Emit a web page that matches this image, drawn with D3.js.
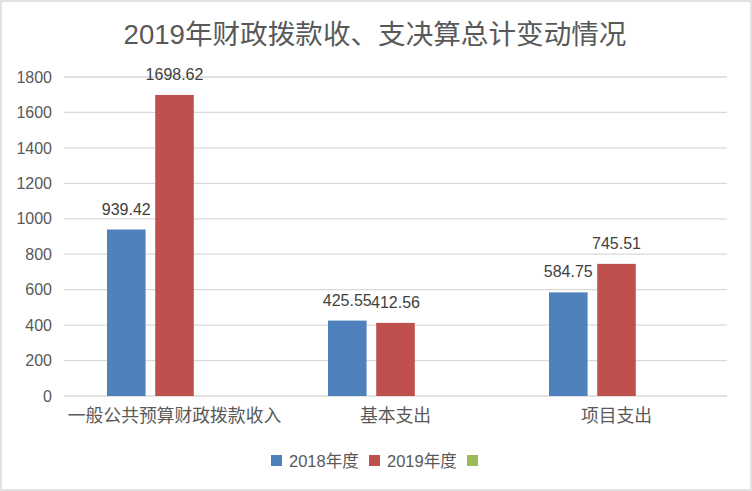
<!DOCTYPE html>
<html><head><meta charset="utf-8">
<script src="https://cdn.jsdelivr.net/npm/d3@7"></script>
<style>body{margin:0;background:#fff}svg{display:block}</style>
</head><body><svg id="c" width="752" height="491"></svg>
<script>
const title = "2019年财政拨款收、支决算总计变动情况";
const categories = ["一般公共预算财政拨款收入", "基本支出", "项目支出"];
const seriesNames = ["2018年度", "2019年度", ""];
const values2018 = [939.42, 425.55, 584.75];
const values2019 = [1698.62, 412.56, 745.51];
const values3 = [null, null, null];
const yTicks = [0, 200, 400, 600, 800, 1000, 1200, 1400, 1600, 1800];
const colors = ["#4f81bd", "#c0504d", "#9bbb59"];

const series = [values2018, values2019, values3];
const font = "'Liberation Sans','Noto Sans CJK SC',sans-serif";
const svg = d3.select("#c");
svg.append("rect").attr("x",1).attr("y",1).attr("width",750).attr("height",489)
  .attr("fill","#fff").attr("stroke","#d9d9d9").attr("stroke-width",1.5);

const L=64, R=727, T=77, B=396;
const x0 = d3.scaleBand().domain(categories).range([L,R]).padding(0);
const x1 = d3.scaleBand().domain(d3.range(3)).range([43, x0.bandwidth()-43]).paddingInner(0.2);
const y = d3.scaleLinear().domain([0,1800]).range([B,T]);

svg.append("text").attr("x",375).attr("y",44).attr("text-anchor","middle")
  .attr("font-family",font).attr("font-size",27.6).attr("fill","#595959").text(title);

const g = svg.append("g");
g.selectAll("line.grid").data(yTicks).enter().append("line")
  .attr("x1",L).attr("x2",R).attr("y1",d=>y(d)).attr("y2",d=>y(d))
  .attr("stroke","#d9d9d9").attr("stroke-width",1.3);

const yAxis = d3.axisLeft(y).tickValues(yTicks).tickFormat(d3.format("d")).tickSize(0).tickPadding(12);
const ya = svg.append("g").attr("transform",`translate(${L},0)`).call(yAxis);
ya.select(".domain").remove();
ya.selectAll("text").attr("font-family",font).attr("font-size",16).attr("fill","#595959");

const xAxis = d3.axisBottom(x0).tickSize(0).tickPadding(13);
const xa = svg.append("g").attr("transform",`translate(0,${B})`).call(xAxis);
xa.select(".domain").remove();
xa.selectAll("text").attr("font-family",font).attr("font-size",17.8).attr("fill","#595959");

series.forEach((vals, si) => {
  const data = categories.map((c,i)=>({c, v: vals[i]})).filter(d=>d.v!=null);
  svg.selectAll(null).data(data).enter().append("rect")
    .attr("x", d=>x0(d.c)+x1(si)).attr("width", x1.bandwidth())
    .attr("y", d=>y(d.v)).attr("height", d=>B-y(d.v)).attr("fill", colors[si]);
  svg.selectAll(null).data(data).enter().append("text")
    .attr("x", d=>x0(d.c)+x1(si)+x1.bandwidth()/2).attr("y", d=>y(d.v)-15)
    .attr("text-anchor","middle").attr("font-family",font).attr("font-size",16)
    .attr("fill","#404040").text(d=>d.v.toFixed(2));
});

// legend
const leg = svg.append("g");
const legItems = [{x:271, t:seriesNames[0]},{x:369, t:seriesNames[1]},{x:467, t:seriesNames[2]}];
legItems.forEach((it,i)=>{
  leg.append("rect").attr("x",it.x).attr("y",455).attr("width",11).attr("height",11).attr("fill",colors[i]);
  leg.append("text").attr("x",it.x+18).attr("y",467).attr("font-family",font).attr("font-size",16.5)
    .attr("fill","#595959").text(it.t);
});
</script></body></html>
